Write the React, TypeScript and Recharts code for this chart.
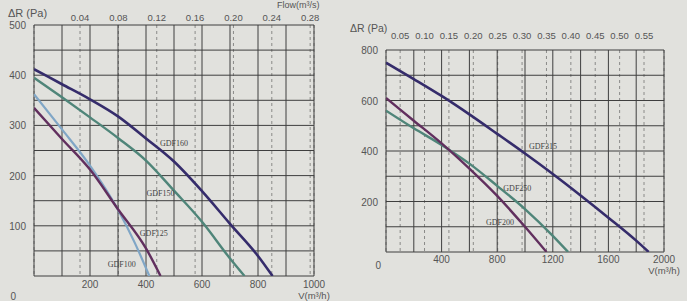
import { LineChart, Line, XAxis, YAxis, CartesianGrid, ReferenceDot } from 'recharts';

// ---- left chart: GDF100 .. GDF160 (V in m3/h, dP in Pa)
const gdf160V = [0, 100, 200, 300, 400, 500, 600, 700, 800, 852];
const gdf160P = [412, 382, 352, 318, 274, 228, 169, 104, 40, 0];
const gdf150V = [0, 100, 200, 300, 400, 500, 600, 700, 752];
const gdf150P = [395, 356, 316, 275, 230, 170, 108, 35, 0];
const gdf125V = [0, 100, 200, 300, 360, 412];
const gdf125P = [362, 292, 220, 132, 66, 0];
const gdf100V = [0, 100, 200, 300, 400, 452];
const gdf100P = [335, 273, 212, 133, 55, 0];

// ---- right chart: GDF200 .. GDF315
const gdf315V = [0, 200, 400, 600, 800, 1000, 1200, 1400, 1600, 1800, 1890];
const gdf315P = [750, 685, 618, 545, 468, 390, 309, 224, 136, 45, 0];
const gdf250V = [0, 200, 400, 600, 800, 1000, 1200, 1310];
const gdf250P = [560, 490, 424, 350, 262, 170, 64, 0];
const gdf200V = [0, 200, 400, 600, 800, 1000, 1155];
const gdf200P = [610, 520, 430, 330, 222, 100, 0];

// ticks
const leftVTicks = [0, 100, 200, 300, 400, 500, 600, 700, 800, 900, 1000];
const leftPTicks = [0, 50, 100, 150, 200, 250, 300, 350, 400, 450, 500];
const leftFlowTicks = [0.04, 0.08, 0.12, 0.16, 0.2, 0.24, 0.28];
const rightVTicks = [0, 200, 400, 600, 800, 1000, 1200, 1400, 1600, 1800, 2000];
const rightPTicks = [0, 100, 200, 300, 400, 500, 600, 700, 800];
const rightFlowTicks = [0.05, 0.1, 0.15, 0.2, 0.25, 0.3, 0.35, 0.4, 0.45, 0.5, 0.55];

// curve name tags (anchor in data units)
const leftTags = [
  { name: 'GDF160', v: 500, p: 265 },
  { name: 'GDF150', v: 452, p: 166 },
  { name: 'GDF125', v: 428, p: 86 },
  { name: 'GDF100', v: 313, p: 24 },
];
const rightTags = [
  { name: 'GDF315', v: 1130, p: 418 },
  { name: 'GDF250', v: 945, p: 255 },
  { name: 'GDF200', v: 820, p: 118 },
];

const NAVY = '#352c6b';
const TEAL = '#4f8579';
const SKY = '#80a6c6';
const PLUM = '#612f5e';

const pts = (v: number[], p: number[]) => v.map((x, i) => ({ v: x, p: p[i] }));

const tickFont = { fontFamily: '"Liberation Sans", Arial, sans-serif', fontSize: 10, fill: '#555' };

interface ChartProps {
  width: number;
  height: number;
  margin: { top: number; right: number; bottom: number; left: number };
  yWidth: number;
  topH: number;
  vMax: number;
  vTicks: number[];
  vEvery: number;
  pMax: number;
  pTicks: number[];
  pEvery: number;
  flowDomain: [number, number];
  flowTicks: number[];
  flowDy: number;
  bottomDy: number;
  vLabelDy: number;
  zero: { dx: number; dy: number };
  series: { v: number[]; p: number[]; color: string; w: number }[];
  tags: { name: string; v: number; p: number }[];
}

function FanChart(c: ChartProps) {
  const yTick = (props: any) => {
    const { x, y, payload } = props;
    const val = payload.value;
    if (val % c.pEvery !== 0) return <g />;
    if (val === 0)
      return (
        <text x={x + c.zero.dx} y={y + c.zero.dy} textAnchor="end" {...tickFont}>
          0
        </text>
      );
    return (
      <text x={x} y={y} dy={4} textAnchor="end" {...tickFont}>
        {val}
      </text>
    );
  };
  const vTick = (props: any) => {
    const { x, y, payload } = props;
    const val = payload.value;
    if (val === 0 || val % c.vEvery !== 0) return <g />;
    return (
      <g>
        <text x={x} y={y} dy={c.bottomDy} textAnchor="middle" {...tickFont}>
          {val}
        </text>
        {val === c.vMax && (
          <text x={x} y={y} dy={c.bottomDy + c.vLabelDy} textAnchor="middle" {...tickFont} fontSize={9.5}>
            V(m³/h)
          </text>
        )}
      </g>
    );
  };
  const qTick = (props: any) => {
    const { x, y, payload } = props;
    return (
      <text x={x} y={y} dy={c.flowDy} textAnchor="middle" {...tickFont} fontSize={9.5}>
        {Number(payload.value).toFixed(2)}
      </text>
    );
  };

  // the top flow axis reads its values from the chart-level rows
  const flowRows = c.flowTicks.map((q) => ({ q }));

  return (
    <LineChart width={c.width} height={c.height} margin={c.margin} data={flowRows}>
      <CartesianGrid xAxisId="q" horizontal={false} stroke="#8a8a88" strokeDasharray="3 3" />
      <CartesianGrid xAxisId="v" stroke="#3f3f3f" strokeWidth={1} />
      <XAxis
        xAxisId="v"
        type="number"
        dataKey="v"
        domain={[0, c.vMax]}
        allowDataOverflow
        ticks={c.vTicks}
        interval={0}
        height={20}
        tickLine={false}
        axisLine={false}
        tick={vTick}
      />
      <XAxis
        xAxisId="q"
        orientation="top"
        type="number"
        dataKey="q"
        domain={c.flowDomain}
        allowDataOverflow
        ticks={c.flowTicks}
        interval={0}
        height={c.topH}
        tickLine={false}
        axisLine={false}
        tick={qTick}
      />
      <YAxis
        type="number"
        domain={[0, c.pMax]}
        allowDataOverflow
        ticks={c.pTicks}
        interval={0}
        width={c.yWidth}
        tickLine={false}
        axisLine={false}
        tick={yTick}
      />
      {c.series.map((s, i) => (
        <Line
          key={i}
          xAxisId="v"
          data={pts(s.v, s.p)}
          dataKey="p"
          type="monotone"
          stroke={s.color}
          strokeWidth={s.w}
          dot={false}
          activeDot={false}
          isAnimationActive={false}
        />
      ))}
      {c.tags.map((t) => (
        <ReferenceDot
          key={t.name}
          xAxisId="v"
          x={t.v}
          y={t.p}
          r={0}
          shape={(p: any) => (
            <text
              x={p.cx}
              y={p.cy}
              dy={3}
              textAnchor="middle"
              fontFamily='"Liberation Serif", "Times New Roman", serif'
              fontSize={8}
              fill="#444"
            >
              {t.name}
            </text>
          )}
        />
      ))}
    </LineChart>
  );
}

const headStyle = {
  position: 'absolute' as const,
  fontFamily: '"Liberation Sans", Arial, sans-serif',
  color: '#555',
  whiteSpace: 'nowrap' as const,
  lineHeight: 1,
};

export default function App() {
  return (
    <div style={{ position: 'absolute', left: 0, top: 0, width: 687, height: 301, background: '#e1e1dd', overflow: 'hidden' }}>
      <div style={{ position: 'absolute', left: 0, top: 0 }}>
        <FanChart
          width={340}
          height={301}
          margin={{ top: 7, right: 26, bottom: 5, left: 0 }}
          yWidth={34}
          topH={18}
          vMax={1000}
          vTicks={leftVTicks}
          vEvery={200}
          pMax={500}
          pTicks={leftPTicks}
          pEvery={100}
          flowDomain={[-0.008, 0.284]}
          flowTicks={leftFlowTicks}
          flowDy={3.5}
          bottomDy={4}
          vLabelDy={11}
          zero={{ dx: -10, dy: 24 }}
          series={[
            { v: gdf160V, p: gdf160P, color: NAVY, w: 2.6 },
            { v: gdf150V, p: gdf150P, color: TEAL, w: 2.4 },
            { v: gdf125V, p: gdf125P, color: SKY, w: 2.2 },
            { v: gdf100V, p: gdf100P, color: PLUM, w: 2.4 },
          ]}
          tags={leftTags}
        />
      </div>
      <div style={{ position: 'absolute', left: 340, top: 0 }}>
        <FanChart
          width={347}
          height={301}
          margin={{ top: 28, right: 23, bottom: 29, left: 0 }}
          yWidth={46}
          topH={22}
          vMax={2000}
          vTicks={rightVTicks}
          vEvery={400}
          pMax={800}
          pTicks={rightPTicks}
          pEvery={200}
          flowDomain={[0.021, 0.591]}
          flowTicks={rightFlowTicks}
          flowDy={-3}
          bottomDy={2.5}
          vLabelDy={11}
          zero={{ dx: 3, dy: 17 }}
          series={[
            { v: gdf315V, p: gdf315P, color: NAVY, w: 2.6 },
            { v: gdf250V, p: gdf250P, color: TEAL, w: 2.4 },
            { v: gdf200V, p: gdf200P, color: PLUM, w: 2.4 },
          ]}
          tags={rightTags}
        />
      </div>
      <div style={{ ...headStyle, left: 8, top: 8, fontSize: 11 }}>ΔR (Pa)</div>
      <div style={{ ...headStyle, left: 277, top: 1, fontSize: 9 }}>Flow(m³/s)</div>
      <div style={{ ...headStyle, left: 350, top: 23, fontSize: 10.5 }}>ΔR (Pa)</div>
    </div>
  );
}
